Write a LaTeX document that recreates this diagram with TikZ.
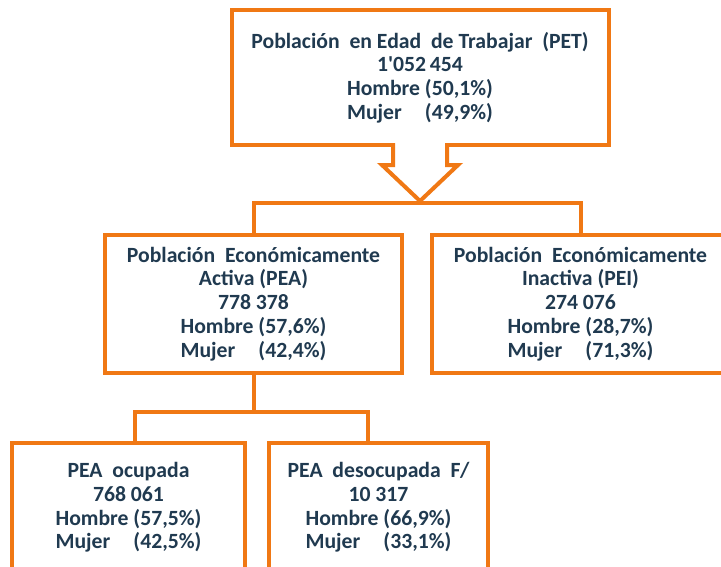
\documentclass[tikz,border=0pt]{standalone}
\usepackage{fontspec}
\setmainfont{Carlito}
\usetikzlibrary{calc}
\definecolor{org}{RGB}{240,120,20}
\definecolor{txt}{RGB}{32,58,80}
\newcommand\mj{\rlap{Mujer}\phantom{Hombre}}
\begin{document}
\begin{tikzpicture}[x=1pt,y=-1pt,
  box/.style={draw=org, line width=4pt, fill=white, inner sep=0pt, align=center,
    text=txt, font=\bfseries\fontsize{21.7}{23.8}\selectfont},
  conn/.style={draw=org, line width=4pt, line join=miter},
]
\useasboundingbox (0,0) rectangle (721,566);
\clip (0,0) rectangle (721,566);
\node[box, minimum width=377pt, minimum height=135pt] (pet) at (420,77.5)
  {Población\ \ en Edad\ \ de Trabajar\ \ (PET)\\1\textquotesingle052\,454\\Hombre (50,1\%)\\\mj\ (49,9\%)};
% hollow down arrow
\fill[white] ($(pet.south)+(-27,-8)$) -- ($(pet.south)+(-27,18)$) -- ($(pet.south)+(-38,18)$)
  -- ($(pet.south)+(0,54)$) -- ($(pet.south)+(38,18)$) -- ($(pet.south)+(27,18)$) -- ($(pet.south)+(27,-8)$) -- cycle;
\draw[conn] ($(pet.south)+(-27,-4)$) -- ($(pet.south)+(-27,18)$) -- ($(pet.south)+(-38,18)$)
  -- ($(pet.south)+(0,54)$) -- ($(pet.south)+(38,18)$) -- ($(pet.south)+(27,18)$) -- ($(pet.south)+(27,-4)$);
\node[box, minimum width=297pt, minimum height=138pt] (pea) at (253.5,304)
  {Población\ \ Económicamente\\Activa (PEA)\\778 378\\Hombre (57,6\%)\\\mj\ (42,4\%)};
\node[box, minimum width=297pt, minimum height=138pt] (pei) at (580.5,304)
  {Población\ \ Económicamente\\Inactiva (PEI)\\274 076\\Hombre (28,7\%)\\\mj\ (71,3\%)};
\node[box, minimum width=233pt, minimum height=129pt] (ocu) at (128.5,507.5)
  {PEA\ \ ocupada\\768 061\\Hombre (57,5\%)\\\mj\ (42,5\%)};
\node[box, minimum width=219pt, minimum height=129pt] (des) at (378.5,507.5)
  {PEA\ \ desocupada\ \ F/\\10 317\\Hombre (66,9\%)\\\mj\ (33,1\%)};
\coordinate (bar) at (420,203);
\draw[conn] (pea.north) |- (bar) -| (pei.north);
\coordinate (bar2) at (253.5,412);
\coordinate (oc) at (135,443);
\coordinate (de) at (368,443);
\draw[conn] (pea.south) -- (bar2);
\draw[conn] (oc) |- (bar2) -| (de);
\end{tikzpicture}
\end{document}
